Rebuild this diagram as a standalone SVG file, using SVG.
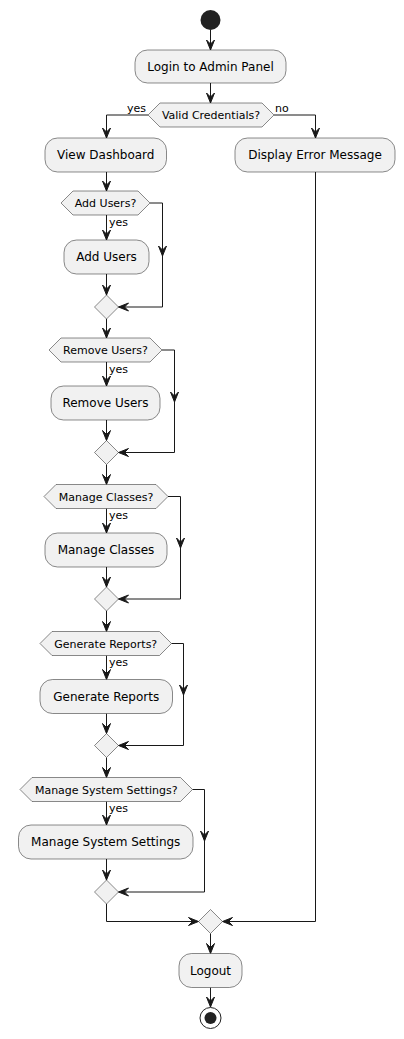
<svg xmlns="http://www.w3.org/2000/svg" width="404" height="1039" viewBox="0 0 404 1039">
<style>
.box{fill:#F1F1F1;stroke:#181818;stroke-width:0.5}
.ln{fill:none;stroke:#181818;stroke-width:1}
.ah{fill:#181818;stroke:#181818;stroke-width:1}
.t12{font-family:"DejaVu Sans",sans-serif;font-size:12px;fill:#000;text-anchor:middle}
.t11{font-family:"DejaVu Sans",sans-serif;font-size:11px;fill:#000;text-anchor:middle}
.lb{font-family:"DejaVu Sans",sans-serif;font-size:11px;fill:#000}
</style>
<defs>
<polygon id="ad" points="-4,-10 0,0 4,-10 0,-6"/>
<polygon id="al" points="10,-4 0,0 10,4 6,0"/>
<polygon id="ar" points="-10,-4 0,0 -10,4 -6,0"/>
</defs>
<rect width="404" height="1039" fill="#FFFFFF"/>

<g id="connectors">
<path class="ln" d="M210.5,30 V50"/><use href="#ad" class="ah" x="210.5" y="50"/>
<path class="ln" d="M210.5,83 V103"/><use href="#ad" class="ah" x="210.5" y="103"/>
<path class="ln" d="M148,115 H106.5 V138"/><use href="#ad" class="ah" x="106.5" y="138"/>
<path class="ln" d="M274,115 H315.5 V138"/><use href="#ad" class="ah" x="315.5" y="138"/>
<path class="ln" d="M106.5,172 V191"/><use href="#ad" class="ah" x="106.5" y="191"/>
<!-- S1 -->
<path class="ln" d="M106.5,215 V240"/><use href="#ad" class="ah" x="106.5" y="240"/>
<path class="ln" d="M106.5,274 V295"/><use href="#ad" class="ah" x="106.5" y="295"/>
<path class="ln" d="M150,203 H162.5 V307 H118.5"/><use href="#ad" class="ah" x="162.5" y="256"/><use href="#al" class="ah" x="118.5" y="307"/>
<path class="ln" d="M106.5,319 V338"/><use href="#ad" class="ah" x="106.5" y="338"/>
<!-- S2 -->
<path class="ln" d="M106.5,362 V386"/><use href="#ad" class="ah" x="106.5" y="386"/>
<path class="ln" d="M106.5,420 V440.5"/><use href="#ad" class="ah" x="106.5" y="440.5"/>
<path class="ln" d="M162,350 H174.5 V452.5 H118.5"/><use href="#ad" class="ah" x="174.5" y="402"/><use href="#al" class="ah" x="118.5" y="452.5"/>
<path class="ln" d="M106.5,464.5 V484.5"/><use href="#ad" class="ah" x="106.5" y="484.5"/>
<!-- S3 -->
<path class="ln" d="M106.5,508.5 V533"/><use href="#ad" class="ah" x="106.5" y="533"/>
<path class="ln" d="M106.5,567 V587"/><use href="#ad" class="ah" x="106.5" y="587"/>
<path class="ln" d="M168,496.5 H180.5 V599 H118.5"/><use href="#ad" class="ah" x="180.5" y="548"/><use href="#al" class="ah" x="118.5" y="599"/>
<path class="ln" d="M106.5,611 V631.5"/><use href="#ad" class="ah" x="106.5" y="631.5"/>
<!-- S4 -->
<path class="ln" d="M106.5,655.5 V679.5"/><use href="#ad" class="ah" x="106.5" y="679.5"/>
<path class="ln" d="M106.5,713.5 V733.5"/><use href="#ad" class="ah" x="106.5" y="733.5"/>
<path class="ln" d="M171.5,643.5 H183.5 V745.5 H118.5"/><use href="#ad" class="ah" x="183.5" y="695"/><use href="#al" class="ah" x="118.5" y="745.5"/>
<path class="ln" d="M106.5,757.5 V777.5"/><use href="#ad" class="ah" x="106.5" y="777.5"/>
<!-- S5 -->
<path class="ln" d="M106.5,801.5 V825"/><use href="#ad" class="ah" x="106.5" y="825"/>
<path class="ln" d="M106.5,859 V880"/><use href="#ad" class="ah" x="106.5" y="880"/>
<path class="ln" d="M192.5,789.5 H204.5 V892 H118.5"/><use href="#ad" class="ah" x="204.5" y="841"/><use href="#al" class="ah" x="118.5" y="892"/>
<!-- final merge -->
<path class="ln" d="M106.5,904 V921.5 H198.5"/><use href="#ar" class="ah" x="198.5" y="921.5"/>
<path class="ln" d="M315.5,172 V921.5 H222.5"/><use href="#al" class="ah" x="222.5" y="921.5"/>
<path class="ln" d="M210.5,933.5 V953.5"/><use href="#ad" class="ah" x="210.5" y="953.5"/>
<path class="ln" d="M210.5,987.5 V1007"/><use href="#ad" class="ah" x="210.5" y="1007"/>
<text class="lb" x="127" y="112">yes</text>
<text class="lb" x="275" y="112">no</text>
<text class="lb" x="109" y="225.5">yes</text>
<text class="lb" x="109" y="372.5">yes</text>
<text class="lb" x="109" y="519">yes</text>
<text class="lb" x="109" y="666">yes</text>
<text class="lb" x="109" y="812">yes</text>
</g>

<g id="start"><circle cx="210.5" cy="20" r="10" fill="#222222"/></g>

<g id="login"><rect class="box" x="135" y="50" width="151" height="33" rx="12.5"/><text class="t12" x="210.5" y="71">Login to Admin Panel</text></g>

<g id="validCredentials"><polygon class="box" points="148,115 160,103 262,103 274,115 262,127 160,127"/><text class="t11" x="211" y="119">Valid Credentials?</text></g>

<g id="viewDashboard"><rect class="box" x="45" y="138" width="121.5" height="34" rx="12.5"/><text class="t12" x="105.75" y="159">View Dashboard</text></g>

<g id="displayError"><rect class="box" x="235" y="138" width="160" height="34" rx="12.5"/><text class="t12" x="315" y="159">Display Error Message</text></g>

<g id="addUsersQ"><polygon class="box" points="61,203 73,191 138,191 150,203 138,215 73,215"/><text class="t11" x="105.5" y="207">Add Users?</text></g>
<g id="addUsers"><rect class="box" x="64" y="240" width="85" height="34" rx="12.5"/><text class="t12" x="106.5" y="261">Add Users</text></g>
<g id="merge1"><polygon class="box" points="106.5,295 118.5,307 106.5,319 94.5,307"/></g>

<g id="removeUsersQ"><polygon class="box" points="49,350 61,338 150,338 162,350 150,362 61,362"/><text class="t11" x="105.5" y="354">Remove Users?</text></g>
<g id="removeUsers"><rect class="box" x="51" y="386" width="109" height="34" rx="12.5"/><text class="t12" x="105.5" y="407">Remove Users</text></g>
<g id="merge2"><polygon class="box" points="106.5,440.5 118.5,452.5 106.5,464.5 94.5,452.5"/></g>

<g id="manageClassesQ"><polygon class="box" points="44,496.5 56,484.5 156,484.5 168,496.5 156,508.5 56,508.5"/><text class="t11" x="106" y="500.5">Manage Classes?</text></g>
<g id="manageClasses"><rect class="box" x="45" y="533" width="122" height="34" rx="12.5"/><text class="t12" x="106" y="554">Manage Classes</text></g>
<g id="merge3"><polygon class="box" points="106.5,587 118.5,599 106.5,611 94.5,599"/></g>

<g id="generateReportsQ"><polygon class="box" points="40,643.5 52,631.5 159.5,631.5 171.5,643.5 159.5,655.5 52,655.5"/><text class="t11" x="105.75" y="647.5">Generate Reports?</text></g>
<g id="generateReports"><rect class="box" x="40" y="679.5" width="132.5" height="34" rx="12.5"/><text class="t12" x="106.25" y="700.5">Generate Reports</text></g>
<g id="merge4"><polygon class="box" points="106.5,733.5 118.5,745.5 106.5,757.5 94.5,745.5"/></g>

<g id="manageSettingsQ"><polygon class="box" points="20,789.5 32,777.5 180.5,777.5 192.5,789.5 180.5,801.5 32,801.5"/><text class="t11" x="106.25" y="793.5">Manage System Settings?</text></g>
<g id="manageSettings"><rect class="box" x="18.5" y="825" width="174.5" height="34" rx="12.5"/><text class="t12" x="105.75" y="846">Manage System Settings</text></g>
<g id="merge5"><polygon class="box" points="106.5,880 118.5,892 106.5,904 94.5,892"/></g>

<g id="finalMerge"><polygon class="box" points="210.5,909.5 222.5,921.5 210.5,933.5 198.5,921.5"/></g>

<g id="logout"><rect class="box" x="179" y="953.5" width="63" height="34" rx="12.5"/><text class="t12" x="210.5" y="974.5">Logout</text></g>

<g id="end"><circle cx="210.5" cy="1018" r="10.5" fill="none" stroke="#222222" stroke-width="1"/><circle cx="210.5" cy="1018" r="6" fill="#222222"/></g>
</svg>
